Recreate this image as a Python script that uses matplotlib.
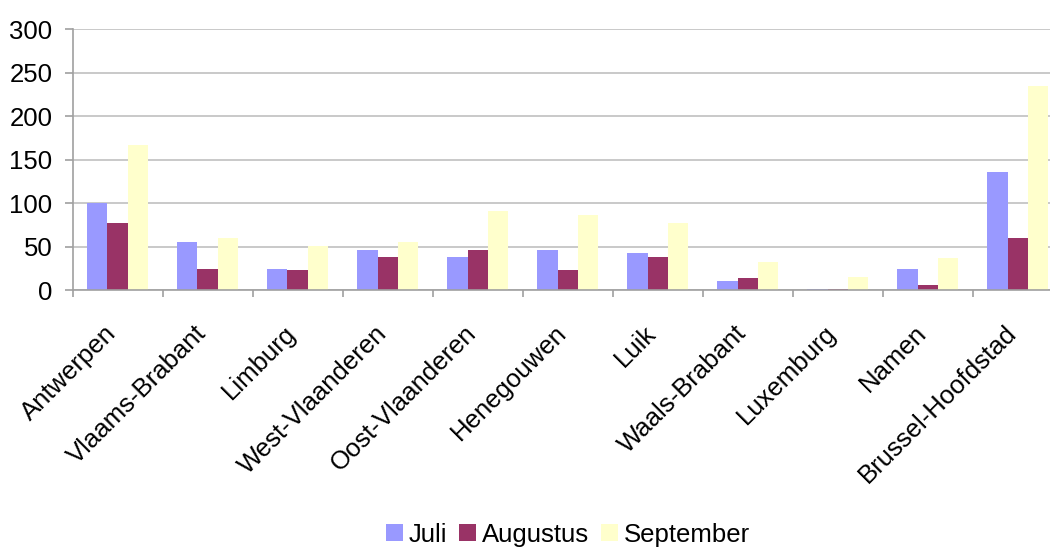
import matplotlib.pyplot as plt
import numpy as np

plt.rcParams['font.family'] = ['Liberation Sans', 'DejaVu Sans']

provinces = ["Antwerpen", "Vlaams-Brabant", "Limburg", "West-Vlaanderen",
             "Oost-Vlaanderen", "Henegouwen", "Luik", "Waals-Brabant",
             "Luxemburg", "Namen", "Brussel-Hoofdstad"]
juli = [100, 55, 24, 46, 38, 46, 42, 10, 1, 24, 136]
augustus = [77, 24, 23, 38, 46, 23, 38, 14, 1, 6, 60]
september = [167, 60, 51, 55, 91, 86, 77, 32, 15, 37, 235]

series = [("Juli", juli, "#9999FF"),
          ("Augustus", augustus, "#993366"),
          ("September", september, "#FFFFCC")]

fs = 18.5
fig = plt.figure(figsize=(10.5, 5.48), dpi=100)
# plot area runs past the right edge of the picture, as in the original
ax = fig.add_axes([0.0692, 0.4708, 0.9429, 0.4762])

x = np.arange(len(provinces))
w = 0.226
for i, (name, vals, col) in enumerate(series):
    ax.bar(x + (i - 1) * w, vals, width=w, color=col, label=name, zorder=2)

ax.set_xlim(-0.5, len(provinces) - 0.5)
ax.set_ylim(0, 300)
ax.set_yticks(np.arange(0, 301, 50))
ax.yaxis.grid(True, color="#C0C0C0", linewidth=1.2, zorder=0)
ax.set_axisbelow(True)

ax.set_xticks(x)
ax.set_xticklabels(provinces, rotation=45, ha="right", va="baseline",
                   rotation_mode="anchor", fontsize=fs)
ax.set_xticks(np.arange(-0.5, len(provinces), 1), minor=True)
ax.tick_params(axis="x", which="major", length=0, pad=32)
ax.tick_params(axis="x", which="minor", length=5, color="#A0A0A0", width=1.2)
ax.tick_params(axis="y", length=5.5, color="#A0A0A0", width=1.2,
               labelsize=fs, pad=9)

for s in ["top", "right"]:
    ax.spines[s].set_visible(False)
for s in ["left", "bottom"]:
    ax.spines[s].set_color("#A0A0A0")
    ax.spines[s].set_linewidth(1.2)

fig.legend(loc="center", bbox_to_anchor=(0.541, 0.024), ncol=3,
           frameon=False, fontsize=fs, handlelength=0.66, handleheight=0.66,
           handletextpad=0.23, columnspacing=0.47, borderpad=0)

plt.savefig("out.png", dpi=100)
